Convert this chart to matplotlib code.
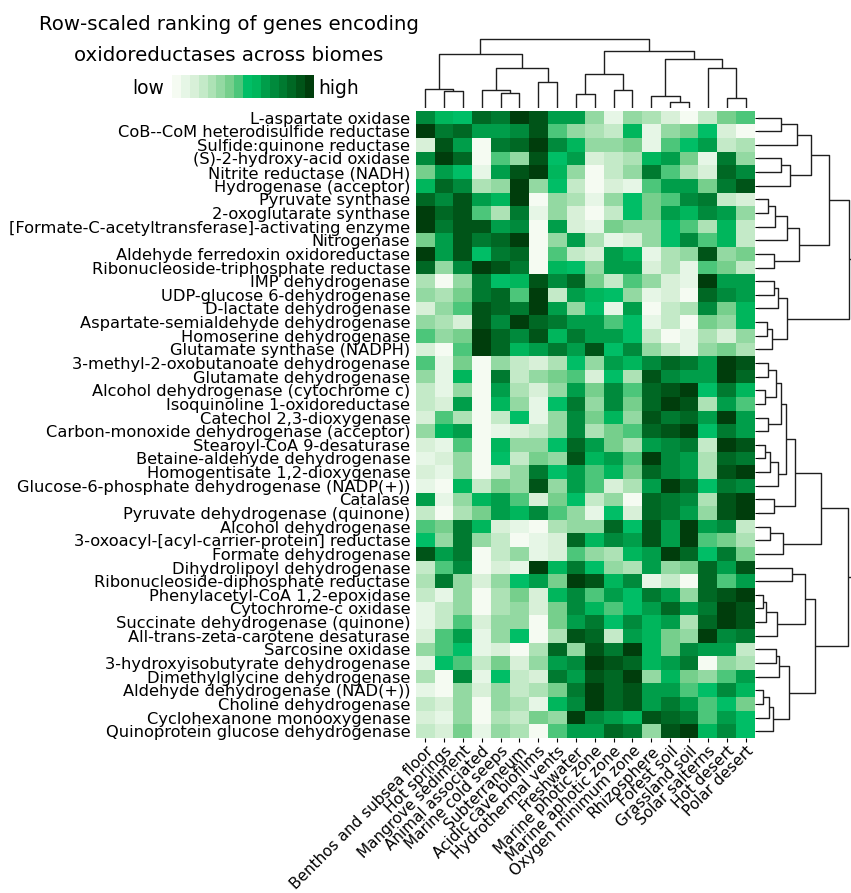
import numpy as np
import matplotlib
matplotlib.use('Agg')
import matplotlib.pyplot as plt
from matplotlib.colors import ListedColormap, BoundaryNorm

# ── Data ──────────────────────────────────────────────────────────────────────
genes = [
    'L-aspartate oxidase', 'CoB--CoM heterodisulfide reductase',
    'Sulfide:quinone reductase', '(S)-2-hydroxy-acid oxidase',
    'Nitrite reductase (NADH)', 'Hydrogenase (acceptor)', 'Pyruvate synthase',
    '2-oxoglutarate synthase', '[Formate-C-acetyltransferase]-activating enzyme',
    'Nitrogenase', 'Aldehyde ferredoxin oxidoreductase',
    'Ribonucleoside-triphosphate reductase', 'IMP dehydrogenase',
    'UDP-glucose 6-dehydrogenase', 'D-lactate dehydrogenase',
    'Aspartate-semialdehyde dehydrogenase', 'Homoserine dehydrogenase',
    'Glutamate synthase (NADPH)', '3-methyl-2-oxobutanoate dehydrogenase',
    'Glutamate dehydrogenase', 'Alcohol dehydrogenase (cytochrome c)',
    'Isoquinoline 1-oxidoreductase', 'Catechol 2,3-dioxygenase',
    'Carbon-monoxide dehydrogenase (acceptor)', 'Stearoyl-CoA 9-desaturase',
    'Betaine-aldehyde dehydrogenase', 'Homogentisate 1,2-dioxygenase',
    'Glucose-6-phosphate dehydrogenase (NADP(+))', 'Catalase',
    'Pyruvate dehydrogenase (quinone)', 'Alcohol dehydrogenase',
    '3-oxoacyl-[acyl-carrier-protein] reductase', 'Formate dehydrogenase',
    'Dihydrolipoyl dehydrogenase', 'Ribonucleoside-diphosphate reductase',
    'Phenylacetyl-CoA 1,2-epoxidase', 'Cytochrome-c oxidase',
    'Succinate dehydrogenase (quinone)', 'All-trans-zeta-carotene desaturase',
    'Sarcosine oxidase', '3-hydroxyisobutyrate dehydrogenase',
    'Dimethylglycine dehydrogenase', 'Aldehyde dehydrogenase (NAD(+))',
    'Choline dehydrogenase', 'Cyclohexanone monooxygenase',
    'Quinoprotein glucose dehydrogenase',
]

biomes = [
    'Benthos and subsea floor', 'Hot springs', 'Mangrove sediment',
    'Animal associated', 'Marine cold seeps', 'Subterraneum',
    'Acidic cave biofilms', 'Hydrothermal vents', 'Freshwater',
    'Marine photic zone', 'Marine aphotic zone', 'Oxygen minimum zone',
    'Rhizosphere', 'Forest soil', 'Grassland soil', 'Solar salterns',
    'Hot desert', 'Polar desert',
]

# row-scaled rank level (1 = low, 16 = high), one list per gene
rank_levels = [
    [12, 10, 9, 14, 13, 16, 15, 11, 11, 6, 2, 6, 5, 3, 1, 4, 7, 8],
    [16, 13, 14, 11, 11, 12, 15, 8, 6, 5, 4, 10, 2, 6, 7, 9, 3, 1],
    [3, 15, 11, 1, 13, 14, 16, 12, 10, 6, 6, 7, 2, 8, 9, 11, 4, 5],
    [12, 16, 14, 1, 8, 6, 15, 9, 11, 3, 4, 5, 10, 11, 7, 2, 13, 6],
    [7, 11, 9, 2, 11, 15, 16, 10, 6, 1, 4, 6, 13, 8, 5, 3, 14, 12],
    [10, 14, 12, 5, 6, 16, 6, 9, 4, 1, 3, 2, 8, 11, 11, 7, 13, 15],
    [14, 12, 15, 11, 10, 16, 1, 6, 5, 2, 6, 9, 7, 8, 12, 13, 4, 3],
    [16, 14, 15, 8, 5, 13, 2, 6, 3, 1, 4, 9, 7, 11, 10, 12, 11, 6],
    [16, 13, 15, 15, 11, 12, 1, 11, 3, 2, 7, 6, 6, 9, 8, 5, 10, 4],
    [7, 11, 15, 13, 14, 16, 1, 6, 11, 5, 2, 3, 6, 9, 12, 8, 10, 4],
    [16, 11, 15, 9, 13, 14, 1, 8, 4, 3, 11, 10, 2, 5, 6, 15, 6, 7],
    [14, 6, 12, 16, 15, 13, 1, 10, 9, 6, 11, 11, 3, 5, 2, 8, 7, 4],
    [5, 1, 6, 13, 9, 10, 15, 12, 14, 7, 4, 8, 6, 3, 2, 16, 11, 11],
    [6, 5, 7, 13, 14, 8, 16, 4, 11, 10, 9, 6, 2, 3, 1, 14, 12, 11],
    [3, 6, 8, 15, 14, 13, 16, 11, 6, 9, 2, 11, 1, 4, 5, 12, 7, 10],
    [6, 5, 3, 15, 12, 16, 14, 13, 11, 11, 8, 9, 2, 4, 1, 7, 6, 10],
    [8, 6, 7, 16, 14, 12, 15, 10, 13, 11, 11, 9, 4, 1, 2, 5, 3, 6],
    [3, 1, 8, 16, 14, 10, 11, 13, 11, 15, 9, 12, 6, 4, 2, 6, 7, 5],
    [8, 2, 7, 1, 6, 4, 3, 5, 9, 6, 11, 10, 12, 14, 13, 11, 16, 15],
    [6, 2, 10, 1, 13, 4, 6, 7, 8, 3, 9, 5, 15, 12, 11, 11, 16, 14],
    [4, 2, 6, 1, 11, 5, 3, 6, 11, 7, 12, 8, 14, 15, 16, 9, 13, 10],
    [4, 3, 11, 1, 10, 6, 2, 9, 13, 6, 12, 7, 14, 16, 15, 5, 11, 8],
    [3, 8, 5, 1, 4, 9, 2, 6, 12, 7, 10, 6, 15, 13, 14, 11, 16, 11],
    [6, 10, 11, 1, 2, 3, 4, 6, 12, 5, 7, 8, 14, 15, 16, 9, 13, 11],
    [3, 2, 8, 1, 10, 6, 6, 9, 14, 11, 7, 5, 11, 12, 13, 4, 16, 15],
    [2, 3, 6, 1, 9, 4, 7, 6, 15, 10, 11, 8, 16, 12, 11, 5, 14, 13],
    [3, 2, 6, 1, 4, 6, 13, 9, 11, 8, 10, 7, 14, 12, 11, 5, 15, 16],
    [2, 1, 10, 4, 7, 6, 15, 6, 11, 8, 3, 5, 11, 16, 14, 9, 13, 12],
    [11, 2, 6, 10, 11, 8, 3, 7, 9, 4, 6, 1, 14, 13, 12, 5, 15, 16],
    [4, 1, 5, 7, 11, 10, 12, 8, 6, 2, 9, 3, 14, 13, 11, 6, 15, 16],
    [8, 7, 13, 10, 3, 2, 1, 5, 6, 6, 14, 9, 15, 11, 16, 11, 12, 4],
    [9, 6, 13, 6, 4, 1, 2, 3, 14, 10, 12, 11, 15, 11, 16, 8, 7, 5],
    [15, 11, 13, 1, 4, 6, 2, 3, 8, 6, 5, 10, 11, 16, 14, 9, 13, 7],
    [4, 8, 12, 1, 3, 2, 16, 10, 13, 9, 6, 5, 11, 6, 7, 14, 11, 15],
    [5, 13, 6, 3, 6, 9, 11, 7, 16, 15, 10, 12, 2, 4, 1, 14, 8, 11],
    [4, 2, 6, 1, 5, 7, 3, 10, 12, 8, 11, 9, 13, 11, 6, 14, 15, 16],
    [2, 4, 6, 1, 5, 6, 3, 7, 12, 10, 8, 9, 11, 14, 11, 13, 16, 15],
    [2, 4, 8, 3, 6, 6, 1, 7, 11, 13, 9, 12, 10, 11, 5, 14, 16, 15],
    [3, 8, 11, 2, 6, 9, 1, 5, 15, 14, 4, 11, 10, 7, 6, 16, 12, 13],
    [6, 8, 9, 2, 3, 1, 5, 14, 6, 15, 13, 16, 10, 7, 12, 11, 11, 4],
    [2, 9, 8, 4, 7, 3, 6, 11, 12, 16, 15, 14, 10, 11, 13, 1, 6, 5],
    [5, 1, 12, 2, 9, 4, 3, 13, 11, 15, 14, 16, 6, 10, 7, 6, 8, 11],
    [2, 1, 6, 3, 6, 4, 5, 7, 13, 16, 14, 15, 11, 11, 8, 9, 12, 10],
    [4, 3, 6, 1, 6, 5, 2, 10, 12, 16, 14, 15, 11, 13, 11, 8, 9, 7],
    [3, 2, 6, 1, 5, 4, 7, 6, 16, 12, 11, 10, 15, 14, 13, 8, 11, 9],
    [4, 3, 7, 2, 6, 5, 1, 8, 11, 11, 14, 13, 6, 15, 16, 10, 12, 9],
]

# cluster trees in display order: (merge height, left, right), leaves are indices
biome_tree = (208,
              (162,
               (58, 0, (52, 1, 2)),
               (122, (54, 3, (47, 4, 5)), (80, 6, 7))),
              (173,
               (104, (43, 8, 9), (54, 10, 11)),
               (149, (38, 12, (20, 13, 14)), (122, 15, (31, 16, 17)))))

gene_tree = (290,
             (273,
              (212,
               (157, (115, (67, 0, 1), 2), (96, (67, 3, 4), 5)),
               (123, (87, (50, (30, 6, 7), 8), 9), (48, 10, 11))),
              (85, (59, (47, 12, 13), 14), (40, (26, 15, 16), 17))),
             (268,
              (188,
               (111,
                (82,
                 (67, (53, (30, 18, 19), (19, 20, 21)), (30, 22, 23)),
                 (59, (35, (19, 24, 25), 26), 27)),
                (47, 28, 29)),
               (75, (35, 30, 31), 32)),
              (170,
               (140, (100, 33, 34), (57, (23, (15, 35, 36), 37), 38)),
               (92, (63, (53, 39, 40), 41),
                (43, (32, (15, 42, 43), 44), 45)))))

level_colors = ['#f5fbf2', '#e6f6e6', '#d8f0d8', '#c4eac8', '#ade2b5', '#93d9a2',
                '#76cf8c', '#4cc67a', '#00be66', '#00b65c', '#009e4a', '#008a3c',
                '#007a30', '#006824', '#005418', '#003d0c']

# ── Figure ────────────────────────────────────────────────────────────────────
W, H = 851, 893
fig = plt.figure(figsize=(W / 100, H / 100), dpi=100)


def px_axes(x0, y0, x1, y1):
    return fig.add_axes([x0 / W, 1 - y1 / H, (x1 - x0) / W, (y1 - y0) / H])


def draw_tree(ax, node, vertical):
    if isinstance(node, int):
        return node + 0.5, 0
    h, left, right = node
    pl, hl = draw_tree(ax, left, vertical)
    pr, hr = draw_tree(ax, right, vertical)
    pos = [pl, pl, pr, pr]
    hts = [hl, h, h, hr]
    if vertical:
        ax.plot(pos, hts, color='0.12', lw=1.0, solid_capstyle='butt')
    else:
        ax.plot(hts, pos, color='0.12', lw=1.0, solid_capstyle='butt')
    return (pl + pr) / 2, h


cmap = ListedColormap(level_colors)
norm = BoundaryNorm(np.arange(0.5, len(level_colors) + 1.5), cmap.N)
data = np.array(rank_levels)

# heatmap
ax = px_axes(415.7, 110.7, 755.0, 738.0)
ax.pcolormesh(np.arange(len(biomes) + 1), np.arange(len(genes) + 1), data,
              cmap=cmap, norm=norm)
ax.set_xlim(0, len(biomes))
ax.set_ylim(len(genes), 0)
for s in ax.spines.values():
    s.set_visible(False)
ax.set_xticks(np.arange(len(biomes)) + 0.5)
ax.set_xticklabels(biomes, rotation=45, ha='right', rotation_mode='anchor',
                   fontsize=11)
ax.set_yticks(np.arange(len(genes)) + 0.5)
ax.set_yticklabels(genes, fontsize=11.7)
ax.tick_params(axis='x', length=3, width=0.8, pad=0.8)
ax.tick_params(axis='y', left=False, right=True, labelleft=True,
               labelright=False, length=3, width=0.8, pad=1.0)

# gene dendrogram (right)
axr = px_axes(758.3, 110.7, 851, 738.0)
draw_tree(axr, gene_tree, vertical=False)
axr.set_ylim(len(genes), 0)
axr.set_xlim(0, 278)
axr.axis('off')

# biome dendrogram (top)
axt = px_axes(415.7, 30, 755.0, 108.3)
draw_tree(axt, biome_tree, vertical=True)
axt.set_xlim(0, len(biomes))
axt.set_ylim(0, 235)
axt.axis('off')

# colour key
axc = px_axes(172, 75, 314, 98.3)
levels = np.arange(1, len(level_colors) + 1)
axc.pcolormesh(np.arange(len(levels) + 1), [0, 1], levels[None, :],
               cmap=cmap, norm=norm)
axc.axis('off')
fig.text(164 / W, 1 - 89 / H, 'low', ha='right', va='center', fontsize=13.5)
fig.text(318 / W, 1 - 89 / H, 'high', ha='left', va='center', fontsize=13.5)

fig.text(229 / W, 1 - 40 / H,
         'Row-scaled ranking of genes encoding\noxidoreductases across biomes',
         ha='center', va='center', fontsize=14.2, linespacing=1.85)

fig.savefig('out.png', dpi=100)
